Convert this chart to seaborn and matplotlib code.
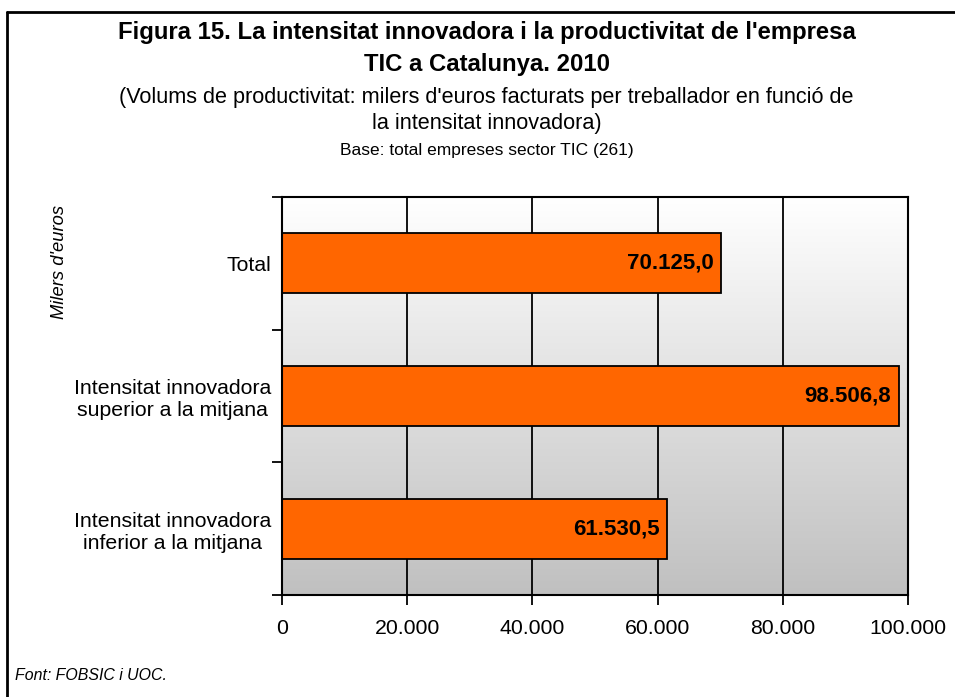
import numpy as np
import matplotlib
matplotlib.use("Agg")
import matplotlib.pyplot as plt
import seaborn as sns
from matplotlib.lines import Line2D

# data
categories = ["Total",
              "Intensitat innovadora\nsuperior a la mitjana",
              "Intensitat innovadora\ninferior a la mitjana"]
values = [70125.0, 98506.8, 61530.5]
xticks = [0, 20000, 40000, 60000, 80000, 100000]
xtick_labels = ["0", "20.000", "40.000", "60.000", "80.000", "100.000"]

sns.set_style("white")
plt.rcParams['font.family'] = ['Liberation Sans', 'DejaVu Sans']
plt.rcParams['text.color'] = 'black'
plt.rcParams['xtick.color'] = 'black'
plt.rcParams['ytick.color'] = 'black'


def fmt(v):
    s = f"{v:,.1f}"
    return s.replace(",", "X").replace(".", ",").replace("X", ".")


fig = plt.figure(figsize=(9.55, 6.97), dpi=100)
ax = fig.add_axes([282 / 955, 1 - 595 / 697, 626 / 955, 398 / 697])

# gradient background
grad = np.linspace(1, 0, 256).reshape(-1, 1)
ax.imshow(grad, cmap=matplotlib.colors.LinearSegmentedColormap.from_list(
    "g", ["#c0c0c0", "#ffffff"]), aspect="auto",
    extent=[0, 100000, 2.5, -0.5], zorder=0, vmin=0, vmax=1)

for xv in xticks[1:-1]:
    ax.axvline(xv, color="black", lw=1.3, zorder=1)

sns.barplot(x=values, y=categories, orient="h", color="#FF6600",
            edgecolor="black", linewidth=1.3, width=0.45, ax=ax,
            saturation=1, zorder=2)

for i, v in enumerate(values):
    ax.text(v - 1200, i, fmt(v), ha="right", va="center",
            fontsize=16, fontweight="bold", color="black", zorder=3)

ax.set_xlim(0, 100000)
ax.set_ylim(2.5, -0.5)
ax.set_xticks(xticks)
ax.set_xticklabels(xtick_labels, fontsize=15.3, color="black")
ax.tick_params(axis="x", direction="out", length=7, width=1.3, pad=10,
               bottom=True, color="black")
ax.set_yticks([0, 1, 2])
ax.set_yticklabels(categories, fontsize=15.3, color="black")
for lab in ax.get_yticklabels():
    lab.set_multialignment("center")
ax.tick_params(axis="y", which="major", length=0, pad=8)
ax.set_yticks([-0.5, 0.5, 1.5, 2.5], minor=True)
ax.tick_params(axis="y", which="minor", direction="out", length=7,
               width=1.3, left=True, color="black")
ax.set_xlabel("")
ax.set_ylabel("")
for sp in ax.spines.values():
    sp.set_color("black")
    sp.set_linewidth(1.5)
    sp.set_zorder(4)

# titles
cx = 486.5 / 955
fig.text(cx, 1 - 33 / 697, "Figura 15. La intensitat innovadora i la productivitat de l'empresa",
         ha="center", va="center", fontsize=17.2, fontweight="bold")
fig.text(cx, 1 - 64 / 697, "TIC a Catalunya. 2010",
         ha="center", va="center", fontsize=17.2, fontweight="bold")
fig.text(cx, 1 - 97 / 697, "(Volums de productivitat: milers d'euros facturats per treballador en funció de",
         ha="center", va="center", fontsize=15.6)
fig.text(cx, 1 - 124 / 697, "la intensitat innovadora)",
         ha="center", va="center", fontsize=15.6)
fig.text(cx, 1 - 150 / 697, "Base: total empreses sector TIC (261)",
         ha="center", va="center", fontsize=12.5)

fig.text(60 / 955, 1 - 262 / 697, "Milers d'euros", rotation=90,
         ha="center", va="center", fontsize=13.2, style="italic")
fig.text(15 / 955, 1 - 676 / 697, "Font: FOBSIC i UOC.",
         ha="left", va="center", fontsize=11.4, style="italic")

# figure border (top and left visible)
fig.add_artist(Line2D([7 / 955, 1], [1 - 12 / 697, 1 - 12 / 697],
                      transform=fig.transFigure, color="black", lw=2))
fig.add_artist(Line2D([7 / 955, 7 / 955], [0, 1 - 12 / 697],
                      transform=fig.transFigure, color="black", lw=2))

fig.savefig("out.png", dpi=100)
